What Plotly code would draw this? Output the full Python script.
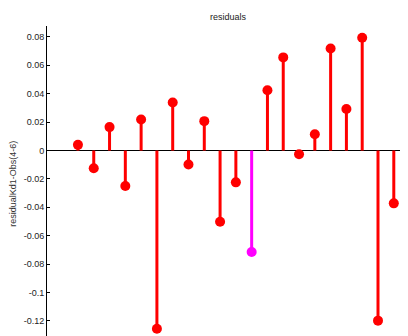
import plotly.graph_objects as go

x_index = list(range(1, 22))
residuals = [0.004, -0.0125, 0.0165, -0.025, 0.0218, -0.1255, 0.0338, -0.0098, 0.0207, -0.0502,
             -0.0224, -0.0714, 0.0424, 0.0656, -0.0026, 0.0115, 0.0718, 0.0292, 0.0794, -0.1198, -0.0372]
highlight_index = 12
y_ticks = [0.08, 0.06, 0.04, 0.02, 0, -0.02, -0.04, -0.06, -0.08, -0.1, -0.12]
y_tick_labels = ["0.08", "0.06", "0.04", "0.02", "0", "-0.02", "-0.04", "-0.06", "-0.08", "-0.1", "-0.12"]

RED = "#ff0000"
MAGENTA = "#ff00ff"

fig = go.Figure()
for color, sel in [(RED, lambda i: i != highlight_index), (MAGENTA, lambda i: i == highlight_index)]:
    sx, sy, mx, my = [], [], [], []
    for xi, yi in zip(x_index, residuals):
        if sel(xi):
            sx += [xi, xi, None]
            sy += [0, yi, None]
            mx.append(xi)
            my.append(yi)
    fig.add_trace(go.Scatter(x=sx, y=sy, mode="lines", line=dict(color=color, width=3),
                             hoverinfo="skip", showlegend=False))
    fig.add_trace(go.Scatter(x=mx, y=my, mode="markers", marker=dict(color=color, size=10),
                             showlegend=False))

fig.add_annotation(text="residualKd1-Obs(4-6)", xref="paper", yref="paper",
                   x=-0.095, y=0.49, xanchor="center", yanchor="middle",
                   textangle=-90, showarrow=False, font=dict(size=9, color="#333333"))

fig.update_layout(
    width=400, height=328,
    margin=dict(l=39, r=0, t=18, b=0),
    paper_bgcolor="white", plot_bgcolor="white",
    font=dict(family="Liberation Sans, Arial, sans-serif", size=9, color="#222222"),
    title=dict(text="residuals", x=0.55, xanchor="center", y=1 - 9 / 328, yanchor="middle",
               font=dict(size=9, color="#222222")),
    xaxis=dict(range=[-0.96, 21.9], visible=False),
    yaxis=dict(range=[-0.1306, 0.0877], tickvals=y_ticks, ticktext=y_tick_labels,
               showgrid=False, zeroline=True, zerolinecolor="black", zerolinewidth=1.2,
               showline=True, linecolor="black", linewidth=1,
               ticks="inside", ticklen=3, tickcolor="black"),
)

fig.write_html("out.html")
